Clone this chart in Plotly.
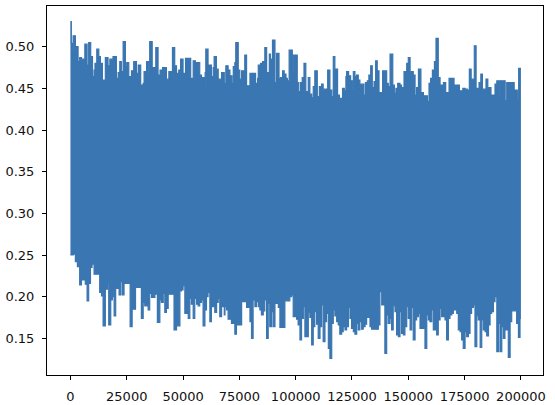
import plotly.graph_objects as go

# Upper envelope of the noisy series (step starts, value)
upper_x = [0,400,900,1200,2200,3400,4100,4900,6400,7400,8100,9000,9800,10500,10900,11700,12600,13300,14200,15500,
           16700,17500,18900,20400,21200,21900,22600,23400,24400,25000,25900,27100,28100,29300,30100,31200,32300,32700,33800,34800,
           35200,36300,37900,38900,39800,40900,42600,43700,44900,45300,46300,47100,48100,48900,50000,51100,53400,54500,55500,57400,
           58200,59400,59800,60100,61100,62600,63400,63800,64800,65600,67100,
           68300,69000,70000,70800,71700,72300,73000,73400,74500,75200,76000,77400,78200,79700,82200,83100,83400,84400,85300,86300,
           87100,88300,88800,89700,90800,91500,92600,93300,94200,94900,95700,96300,97100,98500,98900,100700,101400,102200,102900,103700,
           104500,105600,106300,107100,107800,108500,109600,110500,111500,112200,113700,114200,115200,116000,116700,117400,118600,119400,120800,121600,
           122300,122600,123500,124400,125300,125600,126300,127000,127800,128500,130300,131000,131800,132500,133300,134000,134800,135500,136200,137000,
           138600,140400,141100,
           141900,143100,143800,144500,145300,146300,147000,148100,149300,150000,150800,152200,153000,153700,154500,155600,156700,158500,159200,159900,
           160700,161600,162300,163300,164100,165600,166600,168100,170300,172700,174200,175200,176200,177100,177900,179300,180100,181400,182200,182900,
           184500,185300,186700,188500,189300,190000,190400,193000,193700,197000,198400,199000,200000]
upper_y = [0.530,0.504,0.494,0.513,0.500,0.482,0.487,0.485,0.503,0.478,0.505,0.488,0.464,0.472,0.480,0.497,0.488,0.480,0.460,0.487,
           0.477,0.485,0.488,0.462,0.469,0.482,0.470,0.506,0.476,0.481,0.464,0.471,0.482,0.468,0.478,0.454,0.456,0.470,0.482,0.467,
           0.506,0.475,0.499,0.466,0.472,0.475,0.461,0.470,0.466,0.499,0.477,0.468,0.472,0.485,0.468,0.486,0.462,0.483,0.481,0.466,
           0.463,0.452,0.469,0.497,0.478,0.464,0.475,0.488,0.473,0.461,0.469,
           0.456,0.477,0.472,0.465,0.456,0.476,0.481,0.505,0.472,0.461,0.471,0.490,0.453,0.468,0.456,0.462,0.478,0.480,0.482,0.499,
           0.469,0.491,0.485,0.508,0.457,0.492,0.462,0.463,0.471,0.467,0.462,0.459,0.496,0.468,0.490,0.457,0.446,0.457,0.463,0.480,
           0.446,0.463,0.443,0.439,0.452,0.471,0.440,0.452,0.455,0.449,0.438,0.472,0.448,0.440,0.488,0.473,0.442,0.438,0.450,0.447,
           0.464,0.470,0.465,0.459,0.448,0.470,0.464,0.466,0.460,0.455,0.442,0.457,0.459,0.466,0.477,0.451,0.458,0.483,0.471,0.445,
           0.471,0.456,0.452,
           0.491,0.454,0.444,0.450,0.456,0.454,0.451,0.470,0.480,0.487,0.470,0.466,0.442,0.451,0.473,0.445,0.441,0.434,0.456,0.462,
           0.472,0.482,0.510,0.463,0.454,0.457,0.445,0.462,0.454,0.447,0.450,0.449,0.448,0.473,0.461,0.501,0.450,0.457,0.467,0.449,
           0.461,0.451,0.442,0.455,0.459,0.441,0.459,0.435,0.457,0.448,0.436,0.474,0.474]

# Lower envelope of the noisy series (step starts, value)
lower_x = [0,1200,2200,3100,4100,4900,6600,7400,8100,8900,9600,10500,13000,13800,14500,15500,16400,17000,17900,18600,
           19400,20100,21600,22400,23100,23800,26500,27400,28900,31500,32300,33000,34500,35200,36000,37500,38600,39700,40400,41200,
           41900,42600,43400,46000,47100,47500,48600,49300,50000,50800,52300,53000,53700,54500,55200,56000,56700,57400,58200,58900,
           59700,60400,61100,61900,62600,64100,64900,65600,66300,67100,
           68300,68600,69300,70000,71500,73000,73700,76000,78200,79700,80400,81100,81900,82600,83400,84100,84800,85600,86300,87100,
           87800,88500,89300,90000,90800,92300,93000,95200,97400,98200,98900,100400,101100,101900,102600,103400,104100,105600,106300,107100,
           107800,108500,109300,110000,110800,111500,112200,113000,113700,114500,115200,116000,116700,117400,118200,118900,119600,120400,121100,121900,
           122600,123400,124100,124800,125600,126300,127100,127800,128500,129300,130000,130800,131500,133000,133700,136700,137400,138200,139600,140400,
           141100,
           141900,142600,143300,144100,144800,145600,146300,147000,147800,148500,149300,150000,150800,151500,152200,153000,153700,154500,155200,157400,
           158200,158900,159600,160400,161100,162600,163300,164100,164800,166300,167000,167800,168500,169300,170000,171500,172200,173000,173700,174400,
           175200,175900,176700,177400,178100,178900,179600,180400,181100,181900,182600,183300,184100,184800,185600,186300,187000,187800,188500,189300,
           190000,190700,191500,192200,192900,194400,195200,195900,198100,198900,199600,200000]
lower_y = [0.250,0.251,0.242,0.236,0.214,0.220,0.215,0.195,0.216,0.235,0.239,0.227,0.205,0.201,0.165,0.209,0.217,0.166,0.196,0.200,
           0.177,0.210,0.202,0.218,0.202,0.216,0.164,0.185,0.211,0.174,0.193,0.189,0.184,0.204,0.199,0.203,0.169,0.196,0.193,0.204,
           0.181,0.186,0.203,0.160,0.175,0.165,0.207,0.208,0.213,0.180,0.174,0.198,0.191,0.174,0.198,0.191,0.189,0.193,0.196,0.165,
           0.184,0.200,0.205,0.170,0.188,0.181,0.193,0.198,0.176,0.188,
           0.178,0.188,0.184,0.173,0.168,0.155,0.166,0.194,0.187,0.170,0.150,0.196,0.188,0.194,0.188,0.184,0.178,0.183,0.196,0.150,
           0.192,0.164,0.182,0.164,0.192,0.187,0.163,0.195,0.200,0.202,0.176,0.173,0.166,0.148,0.174,0.188,0.152,0.181,0.175,0.142,
           0.164,0.182,0.167,0.150,0.164,0.190,0.146,0.170,0.180,0.138,0.126,0.168,0.184,0.177,0.170,0.166,0.155,0.158,0.164,0.160,
           0.164,0.187,0.174,0.162,0.158,0.155,0.168,0.160,0.170,0.161,0.164,0.167,0.175,0.164,0.161,0.166,0.206,0.190,0.132,0.178,
           0.168,
           0.174,0.160,0.189,0.182,0.154,0.152,0.182,0.156,0.154,0.164,0.188,0.174,0.160,0.187,0.148,0.172,0.176,0.180,0.162,0.138,
           0.178,0.172,0.170,0.184,0.160,0.154,0.172,0.186,0.176,0.172,0.148,0.174,0.178,0.180,0.184,0.180,0.160,0.158,0.148,0.138,
           0.158,0.152,0.156,0.180,0.187,0.190,0.140,0.177,0.172,0.139,0.172,0.160,0.158,0.153,0.166,0.180,0.182,0.194,0.200,0.134,
           0.168,0.134,0.164,0.150,0.160,0.127,0.170,0.183,0.168,0.151,0.174,0.174]

x_ticks = [0, 25000, 50000, 75000, 100000, 125000, 150000, 175000, 200000]
y_ticks = [0.15, 0.20, 0.25, 0.30, 0.35, 0.40, 0.45, 0.50]

color = "#3a76b1"
fig = go.Figure()
fig.add_trace(go.Scatter(x=upper_x, y=upper_y, mode="lines",
                         line=dict(color=color, width=1.2, shape="hv"),
                         showlegend=False, hoverinfo="skip"))
fig.add_trace(go.Scatter(x=lower_x, y=lower_y, mode="lines",
                         line=dict(color=color, width=1.2, shape="hv"),
                         fill="tonexty", fillcolor=color,
                         showlegend=False, hoverinfo="skip"))

axis_common = dict(showgrid=False, zeroline=False, showline=True, mirror=True,
                   linecolor="black", linewidth=1, ticks="outside", ticklen=4,
                   tickwidth=1, tickcolor="black", automargin=False,
                   tickfont=dict(family="DejaVu Sans", size=13, color="#111111"))
fig.update_xaxes(range=[-10400, 209800], tickvals=x_ticks, ticklabelstandoff=5,
                 ticktext=[str(v) for v in x_ticks], **axis_common)
fig.update_yaxes(range=[0.106, 0.5488], tickvals=y_ticks, ticklabelstandoff=5,
                 ticktext=[f"{v:.2f}" for v in y_ticks], **axis_common)
fig.update_layout(width=555, height=405, plot_bgcolor="white", paper_bgcolor="white",
                  margin=dict(l=47, r=12, t=6, b=30))
fig.write_html("out.html", config={"displayModeBar": False},
               post_script="document.body.style.margin='0';document.body.style.overflow='hidden';")
